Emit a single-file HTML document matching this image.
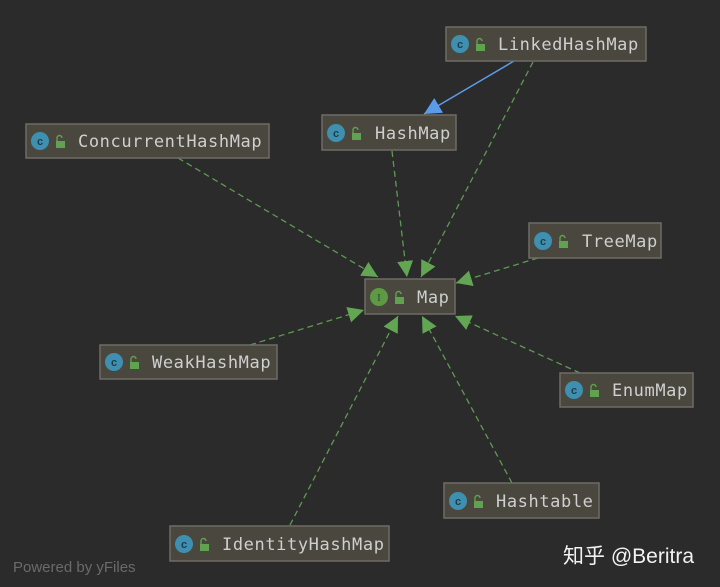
<!DOCTYPE html>
<html><head><meta charset="utf-8"><style>
html,body{margin:0;padding:0;background:#2b2b2b;}
svg{display:block}
.n{fill:#4a473e;stroke:#6e6c66;stroke-width:1.5}
.t{font-family:"DejaVu Sans Mono","Liberation Mono",monospace;font-size:17px;letter-spacing:0.6px;fill:#cfcfcf}
.e{stroke:#5e9a52;stroke-width:1.3;stroke-dasharray:6,4;fill:none}
</style></head><body>
<svg width="720" height="587" viewBox="0 0 720 587" xmlns="http://www.w3.org/2000/svg">
<defs>
<marker id="g" viewBox="0 0 14 14" refX="14" refY="7" markerWidth="16" markerHeight="16" markerUnits="userSpaceOnUse" orient="auto"><path d="M0,0 L14,7 L0,14 z" fill="#62a553"/></marker>
<marker id="b" viewBox="0 0 14 14" refX="14" refY="7" markerWidth="17" markerHeight="17" markerUnits="userSpaceOnUse" orient="auto"><path d="M0,0 L14,7 L0,14 z" fill="#5b9ce8"/></marker>
<g id="ci"><circle r="9" fill="#3e8fb0"/><text x="0" y="4" text-anchor="middle" font-family="Liberation Sans,sans-serif" font-size="11" fill="#1f3d4a" font-weight="bold">c</text></g>
<g id="lk"><rect x="-3" y="-1" width="9" height="7" fill="#5fa24f"/><path d="M-2,-1 v-3 a2.5,2.5 0 0 1 5,0" stroke="#5fa24f" stroke-width="1.4" fill="none"/></g>
</defs>
<rect width="720" height="587" fill="#2b2b2b"/>
<line x1="514" y1="61" x2="424" y2="114" stroke="#5b9ce8" stroke-width="1.5" marker-end="url(#b)"/>
<line class="e" x1="533" y1="62" x2="421" y2="277" marker-end="url(#g)"/>
<line class="e" x1="392" y1="151" x2="407" y2="277" marker-end="url(#g)"/>
<line class="e" x1="178" y1="158" x2="378" y2="277" marker-end="url(#g)"/>
<line class="e" x1="538" y1="258" x2="456" y2="283" marker-end="url(#g)"/>
<line class="e" x1="250" y1="345" x2="364" y2="310" marker-end="url(#g)"/>
<line class="e" x1="580" y1="373" x2="455" y2="316" marker-end="url(#g)"/>
<line class="e" x1="512" y1="483" x2="422" y2="316" marker-end="url(#g)"/>
<line class="e" x1="290" y1="525" x2="398" y2="316" marker-end="url(#g)"/>

<rect class="n" x="446" y="27" width="200" height="34"/><use href="#ci" x="460" y="44"/><use href="#lk" x="479" y="45"/><text class="t" x="498" y="50">LinkedHashMap</text>
<rect class="n" x="322" y="115" width="134" height="35"/><use href="#ci" x="336" y="133"/><use href="#lk" x="355" y="134"/><text class="t" x="375" y="139">HashMap</text>
<rect class="n" x="26" y="124" width="243" height="34"/><use href="#ci" x="40" y="141"/><use href="#lk" x="59" y="142"/><text class="t" x="78" y="147">ConcurrentHashMap</text>
<rect class="n" x="529" y="223" width="132" height="35"/><use href="#ci" x="543" y="241"/><use href="#lk" x="562" y="242"/><text class="t" x="582" y="247">TreeMap</text>
<rect class="n" x="365" y="279" width="90" height="35"/><circle cx="379" cy="297" r="9" fill="#5e9a45"/><text x="379" y="301" text-anchor="middle" font-family="Liberation Serif,serif" font-size="11" fill="#2a4a22">I</text><use href="#lk" x="398" y="298"/><text class="t" x="417" y="303">Map</text>
<rect class="n" x="100" y="345" width="177" height="34"/><use href="#ci" x="114" y="362"/><use href="#lk" x="133" y="363"/><text class="t" x="152" y="368">WeakHashMap</text>
<rect class="n" x="560" y="373" width="133" height="34"/><use href="#ci" x="574" y="390"/><use href="#lk" x="593" y="391"/><text class="t" x="612" y="396">EnumMap</text>
<rect class="n" x="444" y="483" width="155" height="35"/><use href="#ci" x="458" y="501"/><use href="#lk" x="477" y="502"/><text class="t" x="496" y="507">Hashtable</text>
<rect class="n" x="170" y="526" width="219" height="35"/><use href="#ci" x="184" y="544"/><use href="#lk" x="203" y="545"/><text class="t" x="222" y="550">IdentityHashMap</text>

<text x="13" y="572" font-family="Liberation Sans,sans-serif" font-size="15" fill="#6a6a6a">Powered by yFiles</text>
<text x="563" y="563" font-family="Liberation Sans,'Noto Sans CJK SC',sans-serif" font-size="21" fill="#f2f2f2">知乎 @Beritra</text>
</svg>
</body></html>
